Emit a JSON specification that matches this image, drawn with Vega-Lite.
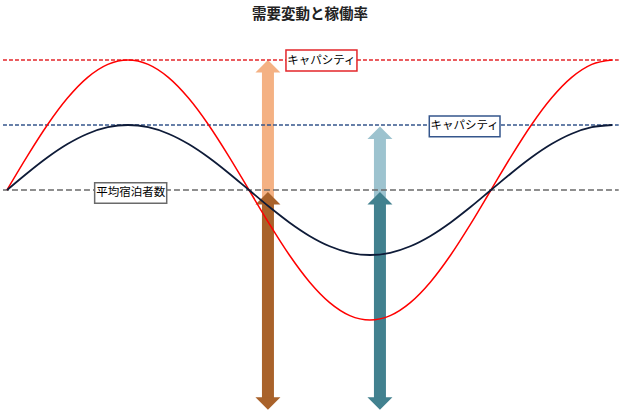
{
  "$schema": "https://vega.github.io/schema/vega-lite/v6.json",
  "width": 620,
  "height": 385,
  "autosize": "none",
  "padding": {"top": 30, "left": 0, "right": 0, "bottom": 0},
  "background": "white",
  "config": {"view": {"stroke": null}, "font": "Noto Sans CJK JP"},
  "title": {"text": "需要変動と稼働率", "fontSize": 14.5, "fontWeight": "bold", "color": "#222222", "font": "Noto Sans CJK JP", "anchor": "middle", "frame": "group", "offset": 8},
  "datasets": {
    "curve": [
      {"deg": 0, "red": 0, "navy": 0},
      {"deg": 15, "red": 0.5176, "navy": 0.2588},
      {"deg": 30, "red": 1.0, "navy": 0.5},
      {"deg": 45, "red": 1.4142, "navy": 0.7071},
      {"deg": 60, "red": 1.7321, "navy": 0.866},
      {"deg": 75, "red": 1.9319, "navy": 0.9659},
      {"deg": 90, "red": 2.0, "navy": 1.0},
      {"deg": 105, "red": 1.9319, "navy": 0.9659},
      {"deg": 120, "red": 1.7321, "navy": 0.866},
      {"deg": 135, "red": 1.4142, "navy": 0.7071},
      {"deg": 150, "red": 1.0, "navy": 0.5},
      {"deg": 165, "red": 0.5176, "navy": 0.2588},
      {"deg": 180, "red": 0, "navy": 0},
      {"deg": 195, "red": -0.5176, "navy": -0.2588},
      {"deg": 210, "red": -1.0, "navy": -0.5},
      {"deg": 225, "red": -1.4142, "navy": -0.7071},
      {"deg": 240, "red": -1.7321, "navy": -0.866},
      {"deg": 255, "red": -1.9319, "navy": -0.9659},
      {"deg": 270, "red": -2.0, "navy": -1.0},
      {"deg": 285, "red": -1.9319, "navy": -0.9659},
      {"deg": 300, "red": -1.7321, "navy": -0.866},
      {"deg": 315, "red": -1.4142, "navy": -0.7071},
      {"deg": 330, "red": -1.0, "navy": -0.5},
      {"deg": 345, "red": -0.5176, "navy": -0.2588},
      {"deg": 360, "red": 0, "navy": 0},
      {"deg": 375, "red": 0.5176, "navy": 0.2588},
      {"deg": 390, "red": 1.0, "navy": 0.5},
      {"deg": 405, "red": 1.4142, "navy": 0.7071},
      {"deg": 420, "red": 1.7321, "navy": 0.866},
      {"deg": 435, "red": 1.9319, "navy": 0.9659},
      {"deg": 450, "red": 2.0, "navy": 1.0}
    ],
    "shafts": [
      {"arrow": "orange", "x": 194.1, "y": -0.12, "y2": 1.82},
      {"arrow": "lightblue", "x": 277.4, "y": -0.12, "y2": 0.79},
      {"arrow": "brown", "x": 194.1, "y": -3.2, "y2": -0.21},
      {"arrow": "teal", "x": 277.4, "y": -3.2, "y2": -0.21}
    ],
    "heads": [
      {"arrow": "orange", "dir": "up", "x": 194.1, "y": 2.0},
      {"arrow": "lightblue", "dir": "up", "x": 277.4, "y": 0.975},
      {"arrow": "brown", "dir": "up", "x": 194.1, "y": -0.03},
      {"arrow": "brown", "dir": "down", "x": 194.1, "y": -3.38},
      {"arrow": "teal", "dir": "up", "x": 277.4, "y": -0.03},
      {"arrow": "teal", "dir": "down", "x": 277.4, "y": -3.38}
    ],
    "refs": [
      {"line": "red", "y": 2, "x": -3, "x2": 455},
      {"line": "navy", "y": 1, "x": -3, "x2": 455},
      {"line": "gray", "y": 0, "x": -3, "x2": 455}
    ],
    "boxes": [
      {"label": "キャパシティ", "kind": "red", "x": 207.5, "x2": 260.3, "y": 2.154, "y2": 1.831, "tx": 233.9, "ty": 1.99},
      {"label": "キャパシティ", "kind": "navy", "x": 314.1, "x2": 366.7, "y": 1.138, "y2": 0.82, "tx": 340.4, "ty": 0.98},
      {"label": "平均宿泊者数", "kind": "gray", "x": 65.2, "x2": 118.8, "y": 0.112, "y2": -0.205, "tx": 92.0, "ty": -0.046}
    ]
  },
  "layer": [
    {
      "data": {"name": "shafts"},
      "mark": {"type": "rule", "strokeWidth": 12, "strokeCap": "butt"},
      "encoding": {
        "x": {"field": "x", "type": "quantitative", "scale": {"domain": [-5.2, 455.95], "nice": false, "zero": false}, "axis": null},
        "y": {"field": "y", "type": "quantitative", "scale": {"domain": [-3.4615, 2.4615], "nice": false, "zero": false}, "axis": null},
        "y2": {"field": "y2"},
        "color": {"field": "arrow", "type": "nominal", "legend": null, "scale": {"domain": ["orange", "lightblue", "brown", "teal"], "range": ["#F4B183", "#9DC3CF", "#A9622A", "#42818F"]}}
      }
    },
    {
      "data": {"name": "heads"},
      "mark": {"type": "point", "filled": true, "opacity": 1, "size": 625, "strokeWidth": 0},
      "encoding": {
        "x": {"field": "x", "type": "quantitative"},
        "y": {"field": "y", "type": "quantitative"},
        "color": {"field": "arrow", "type": "nominal", "legend": null},
        "shape": {"field": "dir", "type": "nominal", "legend": null, "scale": {"domain": ["up", "down"], "range": ["M-1,1L1,1L0,0Z", "M-1,-1L1,-1L0,0Z"]}}
      }
    },
    {
      "data": {"name": "refs"},
      "mark": {"type": "rule"},
      "encoding": {
        "x": {"field": "x", "type": "quantitative"},
        "x2": {"field": "x2"},
        "y": {"field": "y", "type": "quantitative"},
        "stroke": {"field": "line", "type": "nominal", "legend": null, "scale": {"domain": ["red", "navy", "gray"], "range": ["#E3262A", "#35568C", "#6A6A6A"]}},
        "strokeDash": {"field": "line", "type": "nominal", "legend": null, "scale": {"domain": ["red", "navy", "gray"], "range": [[4, 2], [4, 2], [6, 3]]}},
        "size": {"field": "line", "type": "nominal", "legend": null, "scale": {"domain": ["red", "navy", "gray"], "range": [1.5, 1.5, 1.6]}}
      }
    },
    {
      "data": {"name": "curve"},
      "mark": {"type": "line", "color": "#FF0000", "strokeWidth": 1.5, "interpolate": "monotone"},
      "encoding": {
        "x": {"field": "deg", "type": "quantitative"},
        "y": {"field": "red", "type": "quantitative"}
      }
    },
    {
      "data": {"name": "curve"},
      "mark": {"type": "line", "color": "#0E1B38", "strokeWidth": 1.8, "interpolate": "monotone"},
      "encoding": {
        "x": {"field": "deg", "type": "quantitative"},
        "y": {"field": "navy", "type": "quantitative"}
      }
    },
    {
      "data": {"name": "boxes"},
      "mark": {"type": "rect", "fill": "white", "strokeWidth": 1.5},
      "encoding": {
        "x": {"field": "x", "type": "quantitative"},
        "x2": {"field": "x2"},
        "y": {"field": "y", "type": "quantitative"},
        "y2": {"field": "y2"},
        "stroke": {"field": "kind", "type": "nominal", "legend": null, "scale": {"domain": ["red", "navy", "gray"], "range": ["#C0504D", "#4A6A9A", "#595959"]}}
      }
    },
    {
      "data": {"name": "boxes"},
      "mark": {"type": "text", "fontSize": 11.5, "color": "#000000", "font": "Noto Sans CJK JP", "baseline": "middle", "align": "center"},
      "encoding": {
        "x": {"field": "tx", "type": "quantitative"},
        "y": {"field": "ty", "type": "quantitative"},
        "text": {"field": "label"}
      }
    }
  ]
}
